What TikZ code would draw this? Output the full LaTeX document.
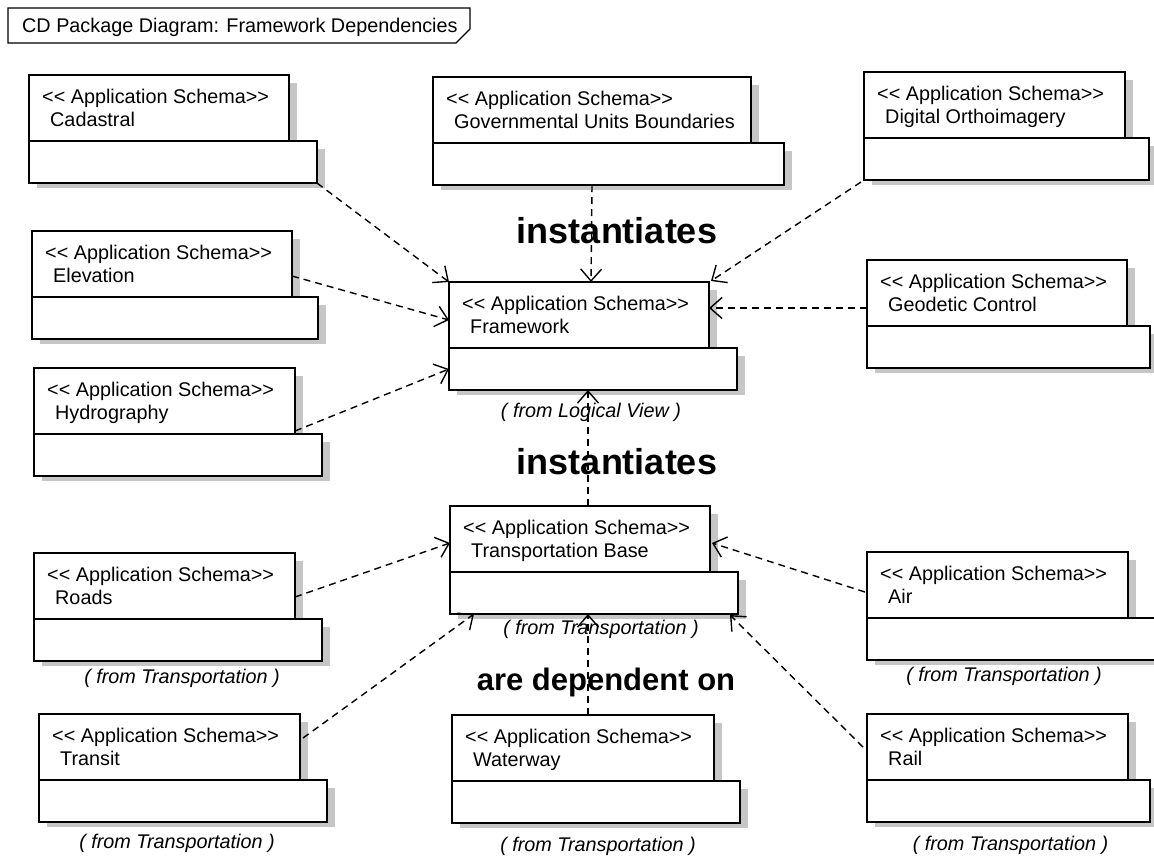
\documentclass[tikz,border=0pt]{standalone}
\usepackage{fontspec}
\setmainfont{Liberation Sans}
\usetikzlibrary{arrows.meta,calc}
\newcommand{\regfont}{\fontsize{19.8}{23}\selectfont}
\newcommand{\stereotxt}{<\kern0pt< Application Schema>\kern0pt>}
\tikzset{
  tabbox/.style={draw, line width=1.5pt, fill=white, inner sep=0pt, outer sep=0pt, minimum height=66pt, anchor=north west},
  bodybox/.style={draw, line width=1.5pt, fill=white, inner sep=0pt, outer sep=0pt, minimum height=42pt, anchor=north west},
  lbl/.style={anchor=base west, inner sep=0pt, font=\regfont},
  fromlbl/.style={anchor=base, inner sep=0pt, font=\regfont\itshape},
  bigl/.style={anchor=base, inner sep=0pt, font=\bfseries\fontsize{31}{36}\selectfont},
  instl/.style={anchor=base, inner sep=0pt, font=\bfseries\fontsize{36}{40}\selectfont},
  dep/.style={dash pattern=on 7pt off 5pt, line width=1.4pt, -{Straight Barb[length=12pt,width=21pt,line width=1.4pt]}},
  shade/.style={fill=gray!45}
}
\newcommand{\umlpkg}[6]{%
  \fill[shade] ({#2+#4},{#3+8}) rectangle ({#2+#4+8},{#3+66});
  \fill[shade] ({#2+#5},{#3+74}) rectangle ({#2+#5+8},{#3+113});
  \fill[shade] ({#2+8},{#3+108}) rectangle ({#2+#5+8},{#3+113});
  \node[tabbox, minimum width=#4pt] (#1-tab) at (#2,#3) {};
  \node[bodybox, minimum width=#5pt] (#1-body) at (#1-tab.south west) {};
  \node[lbl] (#1-st) at ($(#1-tab.north west)+(13,28)$) {\stereotxt};
  \node[lbl] (#1-nm) at ($(#1-tab.north west)+(21,51)$) {#6};
}
\begin{document}
\begin{tikzpicture}[x=1pt,y=-1pt]
\fill[white] (0,0) rectangle (1154,855);
\useasboundingbox (0,0) rectangle (1154,855);
% title frame
\draw[line width=1.3pt] (8,8) -- (470,8) -- (470,29) -- (456,43) -- (8,43) -- cycle;
\node[lbl] (title) at (22,32) {CD Package Diagram: Framework Dependencies};
% packages
\umlpkg{cad}{29}{75}{260}{288}{Cadastral}
\umlpkg{gov}{433}{77}{318}{351}{Governmental Units Boundaries}
\umlpkg{dig}{864}{72}{261}{285}{Digital Orthoimagery}
\umlpkg{elv}{32}{231}{260}{286}{Elevation}
\umlpkg{fw}{449}{282}{260}{288}{Framework}
\umlpkg{geo}{867}{260}{260}{283}{Geodetic Control}
\umlpkg{hyd}{34}{368}{261}{288}{Hydrography}
\umlpkg{tb}{450}{506}{260}{288}{Transportation Base}
\umlpkg{rd}{34}{553}{261}{288}{Roads}
\umlpkg{air}{867}{552}{261}{292}{Air}
\umlpkg{trn}{39}{714}{261}{288}{Transit}
\umlpkg{wat}{452}{715}{262}{288}{Waterway}
\umlpkg{rail}{867}{714}{261}{283}{Rail}
% from labels
\node[fromlbl] (fw-from) at ($(fw-body.south)+(-2,27)$) {( from Logical View )};
\node[fromlbl] (tb-from) at ($(tb-body.south)+(7,20)$) {( from Transportation )};
\node[fromlbl] (rd-from) at ($(rd-body.south)+(4,22)$) {( from Transportation )};
\node[fromlbl] (air-from) at (1004,681) {( from Transportation )};
\node[fromlbl] (trn-from) at ($(trn-body.south)+(-6,26)$) {( from Transportation )};
\node[fromlbl] (wat-from) at ($(wat-body.south)+(2,28)$) {( from Transportation )};
\node[fromlbl] (rail-from) at ($(rail-body.south)+(2,28)$) {( from Transportation )};
% big labels
\node[instl] (inst1) at (617,243) {instantiates};
\node[instl] (inst2) at (617,474) {instantiates};
\node[bigl] (dep) at (606,690) {are dependent on};
% dependencies to Framework
\draw[dep] (cad-body.south east) -- (fw-tab.north west);
\draw[dep] ($(gov-body.south west)+(159,0)$) -- ($(fw-tab.north west)+(142,0)$);
\draw[dep] ($(dig-body.south west)+(-3,2)$) -- ($(fw-tab.north east)+(2,-1)$);
\draw[dep] ($(elv-tab.north east)+(0,45)$) -- ($(fw-tab.north west)+(0,38)$);
\draw[dep] ($(geo-tab.north west)+(0,48)$) -- ($(fw-tab.north east)+(0,26)$);
\draw[dep] ($(hyd-tab.south east)+(0,-3)$) -- (fw-body.west);
\draw[dep] ($(tb-tab.north west)+(138,0)$) -- ($(fw-body.south west)+(139,0)$);
% dependencies to Transportation Base
\draw[dep] ($(rd-tab.north east)+(0,44)$) -- ($(tb-tab.north west)+(0,37)$);
\draw[dep] ($(air-tab.north west)+(-2,40)$) -- ($(tb-tab.north east)+(2,37)$);
\draw[dep] ($(trn-tab.north east)+(3,24)$) -- ($(tb-body.south west)+(24,0)$);
\draw[dep] ($(wat-tab.north west)+(136,0)$) -- ($(tb-body.south west)+(138,0)$);
\draw[dep] ($(rail-tab.north west)+(-4,33)$) -- ($(tb-body.south east)+(-8,1)$);
\end{tikzpicture}
\end{document}
